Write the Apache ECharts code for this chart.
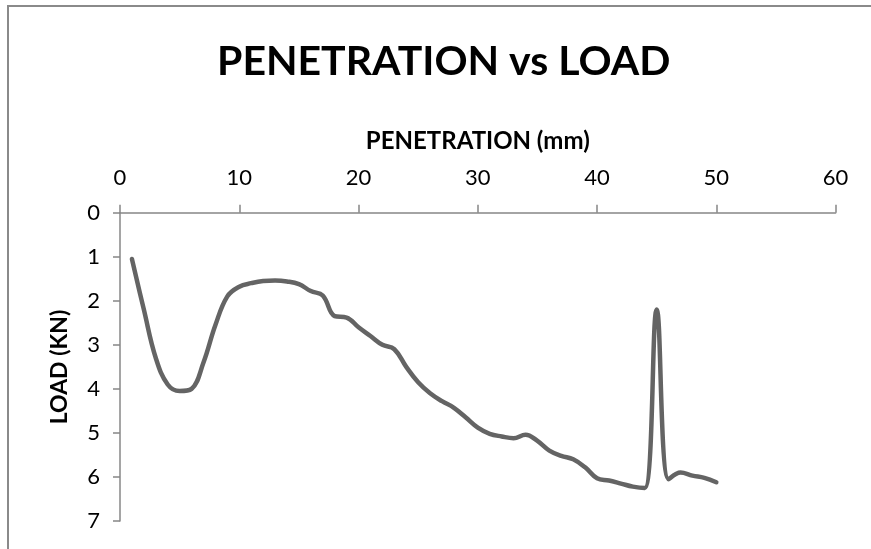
<!DOCTYPE html>
<html>
<head>
<meta charset="utf-8">
<script src="https://cdn.jsdelivr.net/npm/echarts@6/dist/echarts.min.js"></script>
<style>html,body{margin:0;padding:0;background:#fff}#c{width:871px;height:549px}</style>
</head>
<body>
<div id="c"></div>
<script>
const penetration = [1,2,3,4,5,6,7,8,9,10,11,12,13,14,15,16,17,18,19,20,21,22,23,24,25,26,27,28,29,30,31,32,33,34,35,36,37,38,39,40,41,42,43,44,45,46,47,48,49,50];
const load = [1.05,2.2,3.3,3.9,4.05,4.0,3.4,2.55,1.9,1.68,1.6,1.55,1.54,1.56,1.62,1.78,1.88,2.35,2.38,2.6,2.8,3.0,3.1,3.5,3.85,4.1,4.28,4.43,4.65,4.88,5.02,5.08,5.12,5.04,5.18,5.4,5.52,5.6,5.78,6.03,6.08,6.15,6.22,6.25,2.2,6.05,5.9,5.97,6.02,6.12];
const xTicks = [0,10,20,30,40,50,60];
const yTicks = [0,1,2,3,4,5,6,7];
const yName = 'LOAD (KN)';

const chart = echarts.init(document.getElementById('c'));
const font = 'Lato';
chart.setOption({
  animation: false,
  backgroundColor: '#fff',
  title: {
    text: 'PENETRATION vs LOAD',
    left: 212, top: 36,
    textStyle: {fontFamily: font, fontWeight: 'bold', fontSize: 41, color: '#000'}
  },
  graphic: [{
    type: 'rect', shape: {x: 8, y: 6, width: 900, height: 600},
    style: {fill: 'none', stroke: '#8a8a8a', lineWidth: 2}, silent: true, z: -1
  }, {
    type: 'text', x: 60, y: 367, rotation: Math.PI / 2,
    style: {text: yName, align: 'center', verticalAlign: 'middle',
      font: 'bold 23px Lato', fill: '#000'}
  }],
  grid: {left: 120, top: 212.7, right: 35.4, bottom: 28},
  xAxis: {
    type: 'value', position: 'top', min: 0, max: 60, interval: 10,
    name: 'PENETRATION (mm)', nameLocation: 'middle', nameGap: 59,
    nameTextStyle: {fontFamily: font, fontWeight: 'bold', fontSize: 24, color: '#000'},
    axisLine: {show: true, lineStyle: {color: '#878787', width: 1.5}},
    axisTick: {show: true, inside: false, length: 8, lineStyle: {color: '#878787', width: 1.5}},
    axisLabel: {fontFamily: font, fontSize: 22, color: '#000', margin: 24,
      formatter: v => xTicks.includes(v) ? String(v) : ''},
    splitLine: {show: false}
  },
  yAxis: {
    type: 'value', inverse: true, min: 0, max: 7, interval: 1,
    axisLine: {show: true, lineStyle: {color: '#878787', width: 1.5}},
    axisTick: {show: true, inside: false, length: 7, lineStyle: {color: '#878787', width: 1.5}},
    axisLabel: {fontFamily: font, fontSize: 22, color: '#000', margin: 20,
      formatter: v => yTicks.includes(v) ? String(v) : ''},
    splitLine: {show: false}
  },
  series: [{
    type: 'line',
    data: penetration.map((x, i) => [x, load[i]]),
    smooth: 0.4,
    showSymbol: false,
    lineStyle: {color: '#646464', width: 4.5, cap: 'round', join: 'round'}
  }]
});
</script>
</body>
</html>
